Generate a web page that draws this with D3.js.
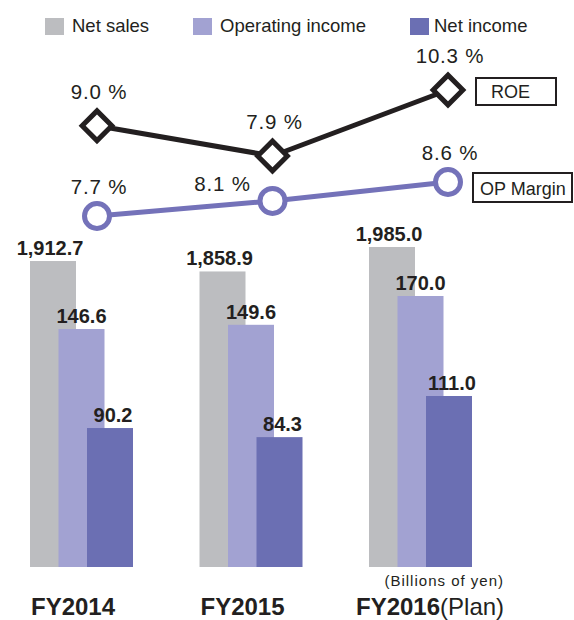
<!DOCTYPE html>
<meta charset="utf-8">
<head>
<title>Net sales / income, ROE and OP margin</title>
<style>
body {
  margin: 0;
  background: #fff;
  font-family: "Liberation Sans", Arial, sans-serif;
}
text {
  fill: #231f20;
}
.legend {
  font-size: 18.5px;
}
.value {
  font-size: 20px;
  font-weight: bold;
}
.pct {
  font-size: 20.5px;
  letter-spacing: 0.8px;
}
.year {
  font-size: 24px;
  font-weight: bold;
}
.tag {
  font-size: 18px;
}
.unit {
  font-size: 15px;
  letter-spacing: 1px;
}
</style>
</head>
<body>
<script src="https://cdnjs.cloudflare.com/ajax/libs/d3/7.8.5/d3.min.js"></script>
<script>

    // Data
    var years = ["FY2014", "FY2015", "FY2016"],
        yearSuffix = ["", "", "(Plan)"],
        series = ["Net sales", "Operating income", "Net income"],
        netSales = [1912.7, 1858.9, 1985.0],
        opIncome = [146.6, 149.6, 170.0],
        netIncome = [90.2, 84.3, 111.0],
        roe = [9.0, 7.9, 10.3],
        opMargin = [7.7, 8.1, 8.6];

    var colors = ["#bcbdc0", "#a2a2d2", "#6b6fb3"],
        roeColor = "#231f20",
        opColor = "#7472b9";

    var width = 574,
        height = 620,
        baseline = 567,
        barWidth = 46;

    var svg = d3.select("body").append("svg")
        .attr("width", width)
        .attr("height", height);

    // Scales (the bars are not drawn to a common scale in the original)
    var x0 = d3.scalePoint().domain(years).range([30, 369]);
    var x1 = d3.scalePoint().domain(series).range([0, 57]);

    var yScales = [
        d3.scaleLinear().domain([335, 1985]).range([baseline, 247]),
        d3.scaleLinear().domain([-22, 170]).range([baseline, 296]),
        d3.scaleLinear().domain([0, 111]).range([baseline, 396])
    ];

    var xLine = d3.scalePoint().domain(years).range([97, 448]);
    var yRoe = d3.scaleLinear().domain([7.9, 10.3]).range([156, 90]);
    var yOp = d3.scaleLinear().domain([7.7, 8.6]).range([216, 182]);

    var values = [netSales, opIncome, netIncome];

    // Legend
    var legend = svg.append("g").selectAll("g")
        .data(series)
        .enter().append("g");
    var legendX = [45, 193, 410];
    legend.append("rect")
        .attr("x", function(d, i) { return legendX[i]; })
        .attr("y", 18)
        .attr("width", 19)
        .attr("height", 17)
        .attr("fill", function(d, i) { return colors[i]; });
    legend.append("text")
        .attr("class", "legend")
        .attr("x", function(d, i) { return legendX[i] + (i == 2 ? 24 : 27); })
        .attr("y", 32)
        .text(function(d) { return d; });

    // Bars, one series at a time so later series sit on top
    series.forEach(function(s, si) {
        var rows = years.map(function(y, i) { return {year: y, v: values[si][i]}; });
        var g = svg.append("g");
        g.selectAll("rect")
            .data(rows)
            .enter().append("rect")
            .attr("x", function(d) { return x0(d.year) + x1(s); })
            .attr("y", function(d) { return yScales[si](d.v); })
            .attr("width", barWidth)
            .attr("height", function(d) { return baseline - yScales[si](d.v); })
            .attr("fill", colors[si]);
        g.selectAll("text")
            .data(rows)
            .enter().append("text")
            .attr("class", "value")
            .attr("text-anchor", "middle")
            .attr("x", function(d) { return x0(d.year) + x1(s) + barWidth / 2 + (si - 1) * 3; })
            .attr("y", function(d) { return yScales[si](d.v) - 6; })
            .text(function(d) { return d3.format(",.1f")(d.v); });
    });

    // Line series
    function drawLine(vals, yScale, color, shape, labelDy, tagText, tagBox) {
        var pts = years.map(function(y, i) { return {year: y, v: vals[i], i: i}; });
        var g = svg.append("g");

        g.append("path")
            .datum(pts)
            .attr("fill", "none")
            .attr("stroke", color)
            .attr("stroke-width", 5)
            .attr("d", d3.line()
                .x(function(d) { return xLine(d.year); })
                .y(function(d) { return yScale(d.v); }));

        if (shape == "diamond") {
            g.selectAll(".mark")
                .data(pts)
                .enter().append("rect")
                .attr("x", -10.5)
                .attr("y", -10.5)
                .attr("width", 21)
                .attr("height", 21)
                .attr("transform", function(d) {
                    return "translate(" + xLine(d.year) + "," + yScale(d.v) + ") rotate(45)";
                })
                .attr("fill", "#fff")
                .attr("stroke", color)
                .attr("stroke-width", 5);
        } else {
            g.selectAll(".mark")
                .data(pts)
                .enter().append("circle")
                .attr("cx", function(d) { return xLine(d.year); })
                .attr("cy", function(d) { return yScale(d.v); })
                .attr("r", 12.5)
                .attr("fill", "#fff")
                .attr("stroke", color)
                .attr("stroke-width", 5);
        }

        // Percent labels (the middle OP label is nudged left off the ROE diamond)
        g.selectAll(".pct")
            .data(pts)
            .enter().append("text")
            .attr("class", "pct")
            .attr("text-anchor", "middle")
            .attr("x", function(d) {
                return xLine(d.year) + (shape == "circle" && d.i == 1 ? -50 : 2);
            })
            .attr("y", function(d) {
                return yScale(d.v) + (shape == "circle" && d.i == 1 ? -10 : labelDy);
            })
            .text(function(d) { return d.v.toFixed(1) + " %"; });

        // Series tag box next to the last point
        var last = pts[pts.length - 1];
        var bx = xLine(last.year) + tagBox.dx,
            by = yScale(last.v) + tagBox.dy;
        g.append("rect")
            .attr("x", bx)
            .attr("y", by)
            .attr("width", tagBox.w)
            .attr("height", tagBox.h)
            .attr("fill", "#fff")
            .attr("stroke", "#231f20")
            .attr("stroke-width", 2);
        g.append("text")
            .attr("class", "tag")
            .attr("x", bx + tagBox.tx)
            .attr("y", by + tagBox.h - 7)
            .text(tagText);
    }

    drawLine(roe, yRoe, roeColor, "diamond", -27, "ROE",
        {dx: 28, dy: -12, w: 80, h: 27, tx: 15});
    drawLine(opMargin, yOp, opColor, "circle", -22, "OP Margin",
        {dx: 25, dy: -9, w: 99, h: 29, tx: 7});

    // Unit note
    svg.append("text")
        .attr("class", "unit")
        .attr("text-anchor", "end")
        .attr("x", 504)
        .attr("y", 586)
        .text("(Billions of yen)");

    // Year labels
    var yl = svg.append("g").selectAll("text")
        .data(years)
        .enter().append("text")
        .attr("class", "year")
        .attr("x", function(d, i) { return x0(d) + (yearSuffix[i] ? -13 : 1); })
        .attr("y", 615);
    yl.append("tspan").text(function(d) { return d; });
    yl.append("tspan")
        .attr("font-weight", "normal")
        .text(function(d, i) { return yearSuffix[i]; });

</script>
</body>
